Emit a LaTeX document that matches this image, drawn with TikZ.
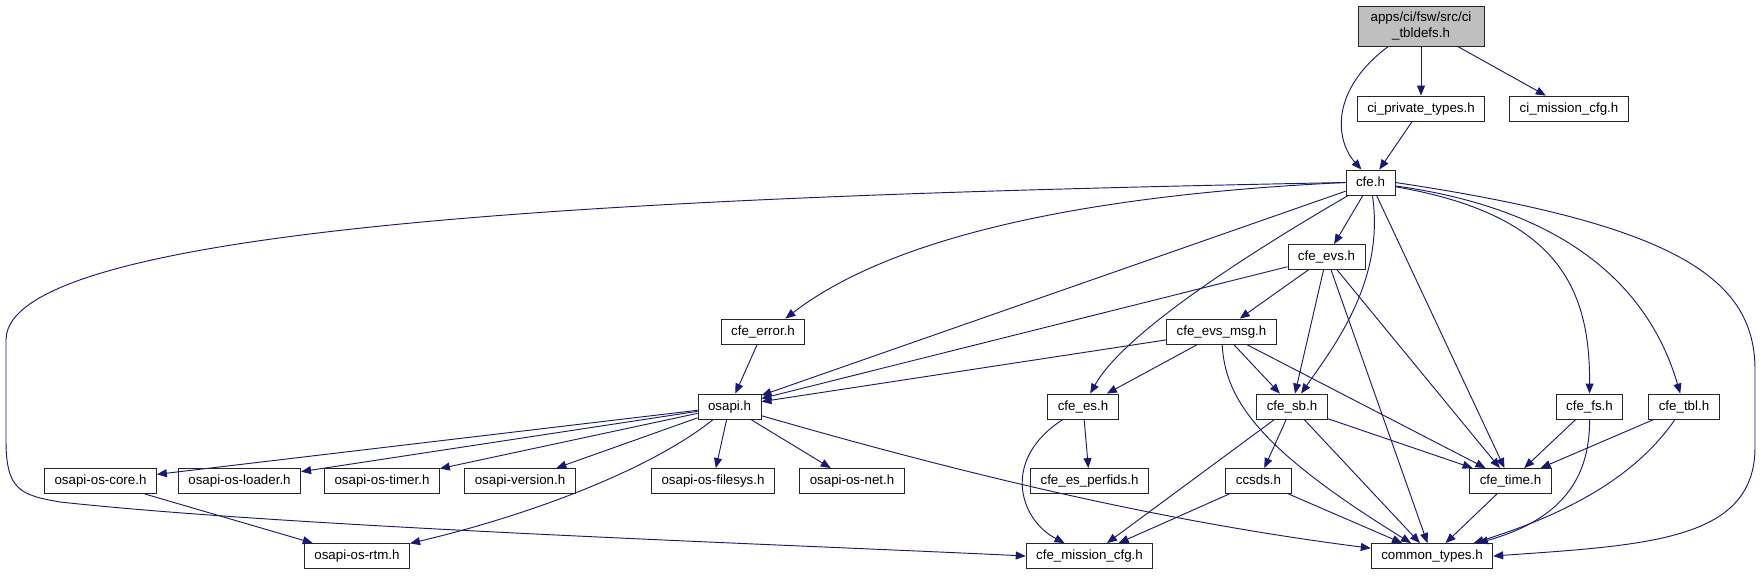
\documentclass[tikz,border=0pt]{standalone}
\usepackage{fontspec}
\setmainfont{Liberation Sans}
\usepackage{tikz}
\usetikzlibrary{arrows.meta,positioning,calc}
\definecolor{edgeblue}{HTML}{191970}
\definecolor{topgray}{HTML}{BFBFBF}

\begin{document}
\begin{tikzpicture}[x=0.75pt, y=-0.75pt,
  hdr/.style={draw=black!85, line width=0.65pt, fill=white, minimum height=18.75pt,
              inner xsep=7.5pt, inner ysep=0pt, text height=7.3pt, text depth=2pt},
  dep/.style={draw=edgeblue, line width=0.7pt, -{Triangle[length=7.5pt,width=6pt]}}]
  \useasboundingbox (0,0) rectangle (1763,575);

  \node[hdr, fill=topgray, minimum width=94.5pt, minimum height=30pt, align=center,
        text height=, text depth=] (tbldefs) at (1421,26) {apps/ci/fsw/src/ci\\\_tbldefs.h};
  \node[hdr] (privtypes) at (1421,108.5) {ci\_private\_types.h};
  \node[hdr] (cimission) at (1569,108.5) {ci\_mission\_cfg.h};
  \node[hdr] (cfe) at (1370.5,182.5) {cfe.h};
  \node[hdr] (evs) at (1326.5,257) {cfe\_evs.h};
  \node[hdr] (error) at (763,331.5) {cfe\_error.h};
  \node[hdr] (evsmsg) at (1221.5,331.5) {cfe\_evs\_msg.h};
  \node[hdr] (osapi) at (729.5,406.5) {osapi.h};
  \node[hdr] (es) at (1083,406.5) {cfe\_es.h};
  \node[hdr] (sb) at (1292,406.5) {cfe\_sb.h};
  \node[hdr] (fs) at (1589.5,406.5) {cfe\_fs.h};
  \node[hdr] (tbl) at (1684,406.5) {cfe\_tbl.h};
  \node[hdr] (oscore) at (100.5,481) {osapi-os-core.h};
  \node[hdr] (osloader) at (239.5,481) {osapi-os-loader.h};
  \node[hdr] (ostimer) at (382,481) {osapi-os-timer.h};
  \node[hdr] (osversion) at (520,481) {osapi-version.h};
  \node[hdr] (osfilesys) at (713,481) {osapi-os-filesys.h};
  \node[hdr] (osnet) at (852,481) {osapi-os-net.h};
  \node[hdr] (perfids) at (1089.5,481) {cfe\_es\_perfids.h};
  \node[hdr] (ccsds) at (1258.5,481) {ccsds.h};
  \node[hdr] (time) at (1510.5,481) {cfe\_time.h};
  \node[hdr] (osrtm) at (357,556) {osapi-os-rtm.h};
  \node[hdr] (mission) at (1089.5,556) {cfe\_mission\_cfg.h};
  \node[hdr] (common) at (1432,556) {common\_types.h};

  \draw[dep] (tbldefs.212) .. controls (1330,90) and (1335,140) .. (cfe.125);
  \draw[dep] (tbldefs) -- (privtypes);
  \draw[dep] (tbldefs) -- (cimission);
  \draw[dep] (privtypes) -- (cfe);

  \draw[dep] (cfe.west) .. controls (700,195) and (6,220) .. (6,340) -- (6,440)
             .. controls (6,490) and (20,495) .. (60,502)
             .. controls (300,528) and (800,545) .. (mission.west);
  \draw[dep] (cfe.west) .. controls (1080,195) and (890,238) .. (error.30);
  \draw[dep] (cfe) -- (osapi);
  \draw[dep] (cfe) -- (evs);
  \draw[dep] (cfe) .. controls (1220,270) and (1120,340) .. (es);
  \draw[dep] (cfe) .. controls (1385,280) and (1335,345) .. (sb);
  \draw[dep] (cfe) -- (time);
  \draw[dep] (cfe) .. controls (1560,215) and (1590,290) .. (fs);
  \draw[dep] (cfe) .. controls (1570,210) and (1650,290) .. (tbl);
  \draw[dep] (cfe.east) .. controls (1680,225) and (1755,280) .. (1755,370) -- (1755,447)
             .. controls (1755,540) and (1650,545) .. (common.east);

  \draw[dep] (error) -- (osapi);
  \draw[dep] (evs) -- (evsmsg);
  \draw[dep] (evs) -- (osapi);
  \draw[dep] (evs) -- (sb);
  \draw[dep] (evs) -- (common);
  \draw[dep] (evs) -- (time);

  \draw[dep] (evsmsg) -- (osapi);
  \draw[dep] (evsmsg) -- (es);
  \draw[dep] (evsmsg) -- (sb);
  \draw[dep] (evsmsg) -- (time);
  \draw[dep] (evsmsg) .. controls (1225,400) and (1260,450) .. (common);

  \draw[dep] (osapi) -- (oscore);
  \draw[dep] (osapi) -- (osloader);
  \draw[dep] (osapi) -- (ostimer);
  \draw[dep] (osapi) -- (osversion);
  \draw[dep] (osapi) -- (osfilesys);
  \draw[dep] (osapi) -- (osnet);
  \draw[dep] (osapi) .. controls (650,470) and (530,515) .. (osrtm);
  \draw[dep] (osapi) .. controls (950,470) and (1150,520) .. (common);
  \draw[dep] (oscore) -- (osrtm);

  \draw[dep] (es) -- (perfids);
  \draw[dep] (es) .. controls (1000,460) and (1020,520) .. (mission);
  \draw[dep] (sb) -- (ccsds);
  \draw[dep] (sb) -- (mission);
  \draw[dep] (sb) -- (common);
  \draw[dep] (sb) -- (time);
  \draw[dep] (ccsds) -- (mission);
  \draw[dep] (ccsds) -- (common);
  \draw[dep] (time) -- (common);
  \draw[dep] (fs) -- (time);
  \draw[dep] (fs) .. controls (1590,480) and (1560,520) .. (common);
  \draw[dep] (tbl) -- (time);
  \draw[dep] (tbl) .. controls (1640,470) and (1580,510) .. (common);
\end{tikzpicture}
\end{document}
